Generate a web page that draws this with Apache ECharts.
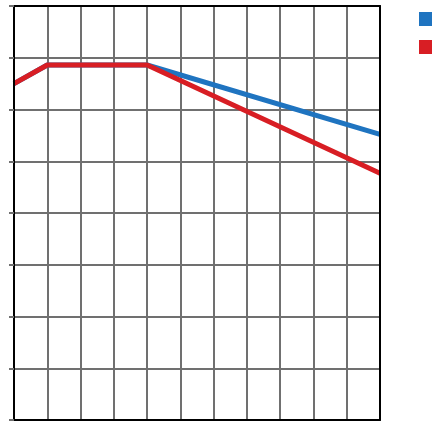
<!DOCTYPE html>
<html><head><meta charset="utf-8">
<script src="https://cdn.jsdelivr.net/npm/echarts@6/dist/echarts.min.js"></script>
<style>html,body{margin:0;padding:0;background:#fff}#c{width:432px;height:422px}</style>
</head><body><div id="c"></div>
<script>
var xBlue = [0, 1, 4, 11];
var yBlue = [6.5, 6.86, 6.86, 5.52];
var xRed = [0, 1, 4, 11];
var yRed = [6.5, 6.86, 6.86, 4.77];
var seriesNames = ['Series 1', 'Series 2'];

function pairs(xs, ys){ return xs.map(function(x,i){ return [x, ys[i]]; }); }

function frameAxis(min, max, pos, tick) {
  return {
    type: 'value', min: min, max: max, interval: 1, position: pos, z: 5,
    axisLine: {show: true, onZero: false, lineStyle: {color: '#000', width: 2}},
    axisTick: {show: !!tick, length: 5, lineStyle: {color: '#707070', width: 2}},
    axisLabel: {show: false}, splitLine: {show: false}
  };
}
function gridAxis(min, max, pos) {
  return {
    type: 'value', min: min, max: max, interval: 1, position: pos, z: 0,
    axisLine: {show: false}, axisTick: {show: false}, axisLabel: {show: false},
    splitLine: {show: true, lineStyle: {color: '#707070', width: 2}}
  };
}
var chart = echarts.init(document.getElementById('c'), null, {renderer:'canvas'});
chart.setOption({
  animation: false,
  grid: {left: 14, top: 6, right: 52, bottom: 2, show: false},
  legend: {
    left: 419, top: 12, padding: 0, orient: 'vertical', itemWidth: 14, itemHeight: 14, itemGap: 14,
    icon: 'rect', data: seriesNames, textStyle: {fontSize: 12, color: '#333'}
  },
  xAxis: [gridAxis(0, 11, 'bottom'), frameAxis(0, 11, 'bottom'), frameAxis(0, 11, 'top')],
  yAxis: [gridAxis(0, 8, 'left'), frameAxis(0, 8, 'left', true), frameAxis(0, 8, 'right')],
  series: [
    {name: seriesNames[0], type: 'line', data: pairs(xBlue, yBlue), showSymbol: false, z: 3,
     lineStyle: {color: '#1f74c0', width: 5}, itemStyle: {color: '#1f74c0'}},
    {name: seriesNames[1], type: 'line', data: pairs(xRed, yRed), showSymbol: false, z: 3,
     lineStyle: {color: '#d81e24', width: 5}, itemStyle: {color: '#d81e24'}}
  ]
});
</script></body></html>
